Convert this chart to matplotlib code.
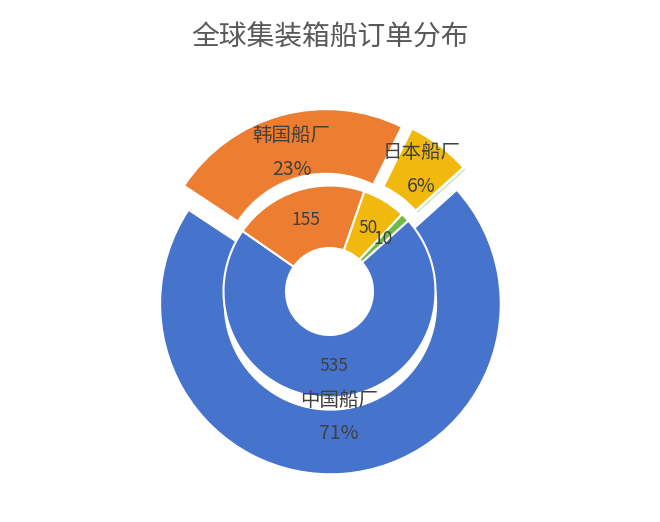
import numpy as np
import matplotlib.pyplot as plt

plt.rcParams['font.family'] = ['Noto Sans CJK SC', 'DejaVu Sans']

# data
yards = ['中国船厂', '韩国船厂', '日本船厂', '其他']
orders = [535, 155, 50, 10]
share = [71, 23, 6, 0.05]
colors = ['#4674CC', '#ED7D31', '#F1B90E', '#6DBB45']

R = 170.0  # outer radius in px
cx, cy = 329.5, 291.5  # ring centre in px (from top-left)
W, H = 660, 522

fig = plt.figure(figsize=(W / 100, H / 100), dpi=100)
ax = fig.add_axes([0, 0, 1, 1])

r_in = 106 / R
hole = 43.5 / R
start = 90 - 48

outer, _ = ax.pie(share, radius=1.0, colors=colors, startangle=start,
                  counterclock=False, explode=[0.0735] * len(share),
                  wedgeprops=dict(width=1 - r_in, edgecolor='white', linewidth=1.0))
# the near-empty slice only leaves a faint line
outer[3].set_facecolor('#C6E5B5')
outer[3].set_edgecolor('#C6E5B5')
outer[3].set_linewidth(0.5)
inner, _ = ax.pie(orders, radius=r_in, colors=colors, startangle=start,
                  counterclock=False,
                  wedgeprops=dict(width=r_in - hole, edgecolor='white', linewidth=1.5))

# inner ring labels: raw order counts
for w, v in zip(inner, orders):
    a = np.deg2rad((w.theta1 + w.theta2) / 2)
    rm = (w.r - w.width / 2)
    ax.text(rm * np.cos(a), rm * np.sin(a), str(v), ha='center', va='center',
            fontsize=12.5, color='#404040')

# outer ring labels: name + share
lab_r = [0.74, 0.85, 0.9]
for w, name, p, lr in zip(outer, yards, share, lab_r):
    a = np.deg2rad((w.theta1 + w.theta2) / 2)
    ax.text(lr * np.cos(a), lr * np.sin(a) + 0.1, name, ha='center', va='center',
            fontsize=14, color='#404040')
    ax.text(lr * np.cos(a), lr * np.sin(a) - 0.1, f'{p:g}%', ha='center', va='center',
            fontsize=14, color='#404040')

ax.set_xlim(-cx / R, (W - cx) / R)
ax.set_ylim(-(H - cy) / R, cy / R)
ax.set_aspect('equal', adjustable='box')
ax.axis('off')

fig.text(0.5, 1 - 38 / H, '全球集装箱船订单分布', ha='center', va='center',
         fontsize=20, color='#595959')

fig.savefig('out.png', dpi=100)
